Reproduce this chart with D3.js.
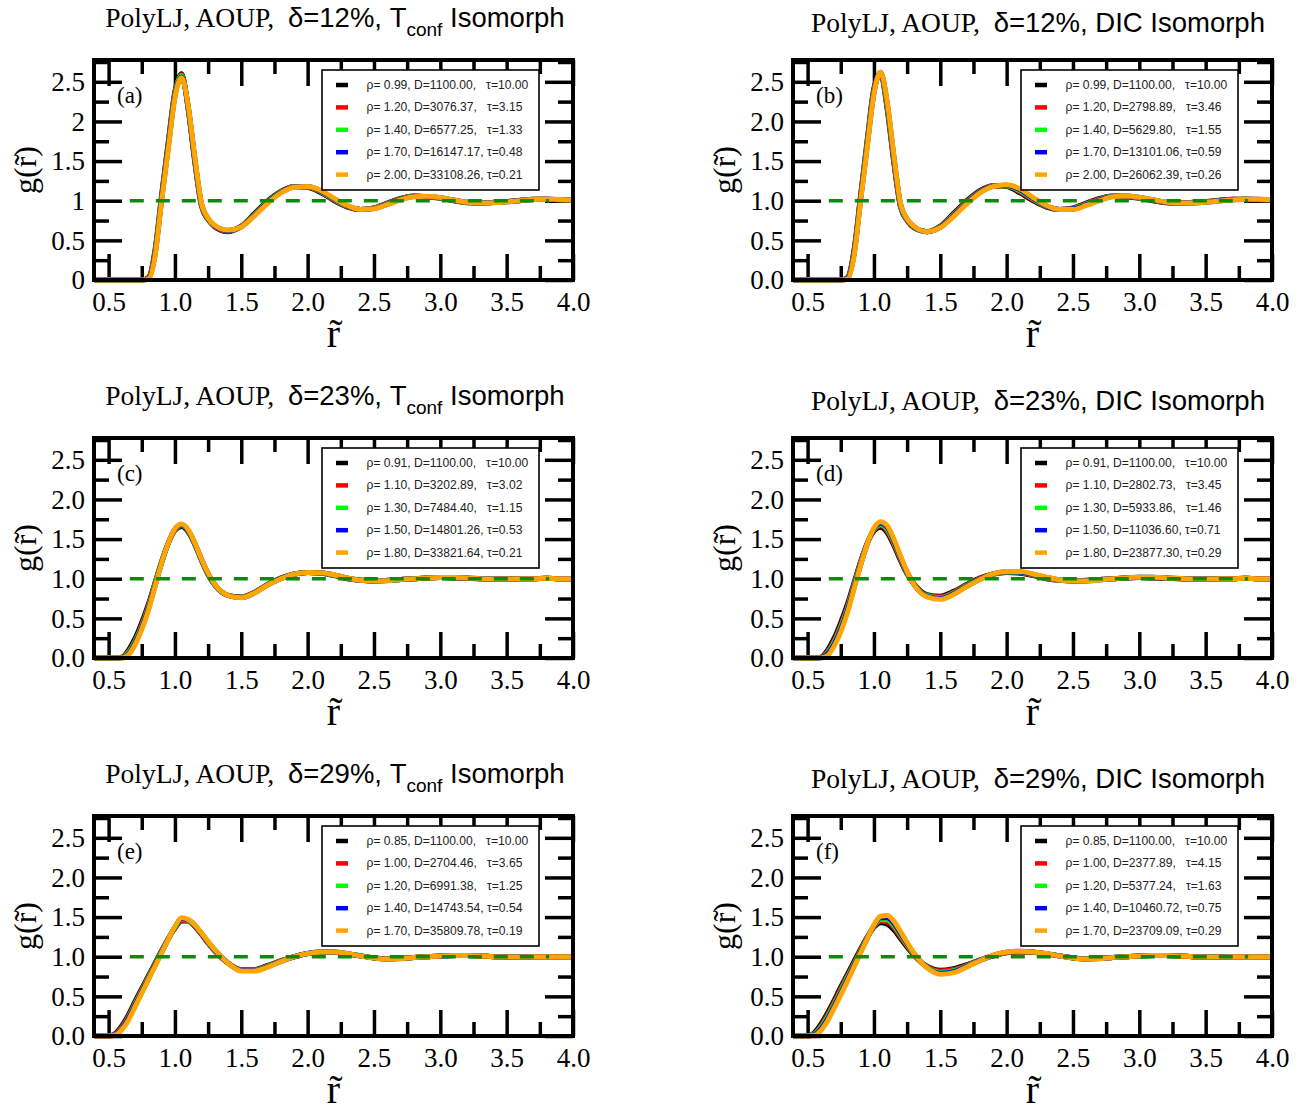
<!DOCTYPE html>
<html>
<head>
<meta charset="utf-8">
<script src="https://cdn.jsdelivr.net/npm/d3@7/dist/d3.min.js"></script>
<style>
body { margin: 0; background: #fff; }
</style>
</head>
<body>
<svg id="fig" width="1316" height="1113"></svg>
<script>
// r values shared by every curve
var rGrid = [0.39,0.50,0.55,0.60,0.65,0.70,0.75,0.80,0.85,0.90,0.95,1.00,1.05,1.10,1.15,1.20,1.25,1.30,
             1.40,1.50,1.60,1.70,1.80,1.90,2.00,2.10,2.20,2.30,2.40,2.50,2.60,2.70,2.80,2.90,3.00,
             3.10,3.20,3.30,3.40,3.50,3.60,3.70,3.80,3.90,4.00];

// (a) delta=12%, Tconf isomorph
var gA1 = [0,0,0,0,0,0,0,0.03,0.38,1.08,1.75,2.38,2.6,2.15,1.48,0.93,0.76,0.67,0.61,0.68,0.84,1.0,1.12,1.18,1.17,1.1,1.0,0.92,0.89,0.91,0.97,1.03,1.06,1.05,1.03,1.0,0.975,0.97,0.98,0.99,1.005,1.02,1.02,1.01,1.005];
var gA2 = [0,0,0,0,0,0,0,0.025,0.36,1.06,1.72,2.36,2.59,2.16,1.5,0.94,0.765,0.675,0.615,0.68,0.83,0.99,1.115,1.178,1.172,1.108,1.008,0.925,0.89,0.908,0.965,1.025,1.058,1.051,1.033,1.003,0.976,0.97,0.979,0.989,1.004,1.019,1.02,1.011,1.006];
var gA3 = [0,0,0,0,0,0,0,0.02,0.34,1.04,1.7,2.34,2.58,2.18,1.52,0.95,0.77,0.68,0.62,0.675,0.825,0.985,1.11,1.175,1.175,1.115,1.015,0.93,0.89,0.905,0.96,1.02,1.055,1.052,1.035,1.005,0.978,0.97,0.978,0.988,1.003,1.018,1.02,1.012,1.008];
var gA4 = [0,0,0,0,0,0,0,0.015,0.32,1.02,1.68,2.32,2.56,2.19,1.53,0.96,0.775,0.685,0.625,0.672,0.818,0.978,1.105,1.172,1.178,1.122,1.022,0.935,0.89,0.902,0.955,1.015,1.052,1.054,1.038,1.008,0.98,0.97,0.976,0.986,1.001,1.016,1.02,1.014,1.009];
var gA5 = [0,0,0,0,0,0,0,0.01,0.3,1.0,1.65,2.3,2.55,2.2,1.55,0.97,0.78,0.69,0.63,0.67,0.81,0.97,1.1,1.17,1.18,1.13,1.03,0.94,0.89,0.9,0.95,1.01,1.05,1.055,1.04,1.01,0.98,0.97,0.975,0.985,1.0,1.015,1.02,1.015,1.01];

// (b) delta=12%, DIC isomorph
var gB1 = [0,0,0,0,0,0,0,0.03,0.38,1.08,1.78,2.42,2.6,2.15,1.48,0.92,0.75,0.66,0.61,0.68,0.84,1.0,1.13,1.19,1.18,1.1,1.0,0.92,0.89,0.91,0.97,1.03,1.06,1.05,1.03,1.0,0.975,0.97,0.98,0.99,1.005,1.02,1.02,1.01,1.005];
var gB2 = [0,0,0,0,0,0,0,0.025,0.36,1.06,1.75,2.4,2.61,2.18,1.5,0.93,0.755,0.665,0.61,0.675,0.83,0.99,1.12,1.188,1.185,1.112,1.01,0.925,0.89,0.905,0.962,1.022,1.058,1.052,1.034,1.004,0.978,0.97,0.978,0.988,1.003,1.018,1.02,1.012,1.008];
var gB3 = [0,0,0,0,0,0,0,0.02,0.34,1.04,1.73,2.38,2.61,2.2,1.53,0.945,0.76,0.67,0.61,0.67,0.82,0.98,1.115,1.185,1.19,1.125,1.02,0.93,0.89,0.9,0.955,1.015,1.055,1.055,1.038,1.008,0.98,0.97,0.975,0.985,1.0,1.015,1.02,1.015,1.01];
var gB4 = [0,0,0,0,0,0,0,0.015,0.32,1.02,1.7,2.36,2.62,2.23,1.56,0.96,0.765,0.675,0.61,0.665,0.81,0.97,1.108,1.182,1.195,1.138,1.03,0.935,0.89,0.895,0.948,1.008,1.052,1.058,1.042,1.012,0.982,0.97,0.972,0.982,0.998,1.012,1.02,1.018,1.012];
var gB5 = [0,0,0,0,0,0,0,0.01,0.3,1.0,1.68,2.35,2.62,2.25,1.58,0.97,0.77,0.68,0.61,0.66,0.8,0.96,1.1,1.18,1.2,1.15,1.04,0.94,0.89,0.89,0.94,1.0,1.05,1.06,1.045,1.015,0.985,0.97,0.97,0.98,0.995,1.01,1.02,1.02,1.015];

// (c) delta=23%, Tconf isomorph
var gC1 = [0,0,0,0.01,0.1,0.25,0.45,0.68,0.95,1.22,1.45,1.61,1.66,1.59,1.43,1.23,1.05,0.92,0.79,0.77,0.83,0.93,1.01,1.06,1.08,1.07,1.04,1.0,0.98,0.97,0.98,0.99,1.0,1.01,1.015,1.01,1.005,1.0,0.995,0.995,1.0,1.0,1.005,1.0,1.0];
var gC2 = [0,0,0,0.008,0.08,0.22,0.42,0.66,0.94,1.21,1.45,1.615,1.67,1.6,1.44,1.24,1.06,0.925,0.79,0.767,0.827,0.927,1.005,1.06,1.08,1.072,1.045,1.005,0.98,0.97,0.978,0.99,1.0,1.01,1.015,1.012,1.007,1.0,0.995,0.995,1.0,1.0,1.005,1.0,1.0];
var gC3 = [0,0,0,0.005,0.07,0.21,0.4,0.64,0.93,1.21,1.45,1.62,1.675,1.605,1.44,1.24,1.06,0.925,0.79,0.765,0.825,0.925,1.005,1.06,1.08,1.073,1.045,1.005,0.98,0.97,0.977,0.99,1.0,1.01,1.015,1.013,1.008,1.0,0.995,0.995,1.0,1.0,1.005,1.0,1.0];
var gC4 = [0,0,0,0.002,0.05,0.19,0.38,0.62,0.91,1.2,1.45,1.625,1.68,1.61,1.445,1.245,1.065,0.928,0.79,0.762,0.822,0.922,1.002,1.06,1.08,1.074,1.048,1.008,0.98,0.97,0.976,0.99,1.0,1.01,1.015,1.014,1.009,1.0,0.995,0.995,1.0,1.0,1.005,1.0,1.0];
var gC5 = [0,0,0,0,0.04,0.17,0.36,0.6,0.9,1.2,1.45,1.63,1.69,1.62,1.45,1.25,1.07,0.93,0.79,0.76,0.82,0.92,1.0,1.06,1.08,1.075,1.05,1.01,0.98,0.97,0.975,0.99,1.0,1.01,1.015,1.015,1.01,1.0,0.995,0.995,1.0,1.0,1.005,1.0,1.0];

// (d) delta=23%, DIC isomorph
var gD1 = [0,0,0,0.01,0.1,0.25,0.45,0.68,0.95,1.22,1.45,1.6,1.65,1.58,1.42,1.23,1.06,0.94,0.8,0.78,0.84,0.93,1.01,1.06,1.08,1.07,1.04,1.0,0.98,0.975,0.98,0.99,1.0,1.01,1.015,1.01,1.005,1.0,0.995,0.995,1.0,1.0,1.005,1.0,1.0];
var gD2 = [0,0,0,0.008,0.08,0.22,0.42,0.65,0.93,1.21,1.45,1.61,1.67,1.6,1.44,1.245,1.068,0.938,0.792,0.77,0.83,0.923,1.005,1.06,1.083,1.075,1.045,1.005,0.981,0.974,0.978,0.989,1.0,1.01,1.016,1.012,1.006,1.001,0.995,0.995,1.0,1.0,1.005,1.0,1.0];
var gD3 = [0,0,0,0.005,0.065,0.2,0.39,0.625,0.91,1.195,1.445,1.62,1.685,1.625,1.46,1.26,1.075,0.935,0.785,0.76,0.82,0.915,1.0,1.06,1.085,1.08,1.05,1.01,0.982,0.972,0.975,0.988,1.0,1.01,1.017,1.015,1.008,1.003,0.995,0.995,1.0,1.0,1.005,1.0,1.0];
var gD4 = [0,0,0,0.002,0.05,0.175,0.36,0.6,0.89,1.18,1.44,1.63,1.7,1.65,1.48,1.275,1.082,0.932,0.778,0.75,0.81,0.907,0.995,1.06,1.088,1.085,1.055,1.015,0.984,0.971,0.972,0.986,1.0,1.01,1.018,1.018,1.009,1.004,0.995,0.995,1.0,1.0,1.005,1.0,1.0];
var gD5 = [0,0,0,0,0.03,0.15,0.33,0.57,0.87,1.17,1.44,1.64,1.72,1.67,1.5,1.29,1.09,0.93,0.77,0.74,0.8,0.9,0.99,1.06,1.09,1.09,1.06,1.02,0.985,0.97,0.97,0.985,1.0,1.01,1.02,1.02,1.01,1.005,0.995,0.995,1.0,1.0,1.005,1.0,1.0];

// (e) delta=29%, Tconf isomorph
var gE1 = [0,0,0.03,0.13,0.27,0.44,0.6,0.76,0.92,1.08,1.23,1.36,1.45,1.45,1.38,1.28,1.17,1.07,0.92,0.84,0.84,0.89,0.95,1.0,1.04,1.055,1.055,1.035,1.01,0.985,0.975,0.98,0.99,1.0,1.01,1.015,1.015,1.01,1.0,0.995,0.995,1.0,1.0,1.0,1.0];
var gE2 = [0,0,0.025,0.115,0.25,0.42,0.585,0.75,0.91,1.07,1.225,1.365,1.46,1.455,1.385,1.285,1.175,1.075,0.92,0.835,0.835,0.885,0.947,1.0,1.04,1.056,1.056,1.036,1.01,0.985,0.974,0.979,0.99,1.0,1.01,1.015,1.015,1.01,1.0,0.995,0.995,1.0,1.0,1.0,1.0];
var gE3 = [0,0,0.02,0.1,0.235,0.405,0.57,0.735,0.9,1.065,1.225,1.37,1.47,1.46,1.39,1.29,1.18,1.08,0.92,0.83,0.83,0.88,0.945,1.0,1.04,1.057,1.057,1.037,1.01,0.985,0.973,0.978,0.99,1.0,1.01,1.015,1.015,1.01,1.0,0.995,0.995,1.0,1.0,1.0,1.0];
var gE4 = [0,0,0.015,0.09,0.22,0.39,0.555,0.72,0.89,1.055,1.222,1.375,1.48,1.465,1.395,1.295,1.185,1.085,0.92,0.825,0.825,0.875,0.942,1.0,1.04,1.058,1.058,1.038,1.01,0.985,0.971,0.976,0.99,1.0,1.01,1.015,1.015,1.01,1.0,0.995,0.995,1.0,1.0,1.0,1.0];
var gE5 = [0,0,0.01,0.08,0.2,0.37,0.54,0.71,0.88,1.05,1.22,1.38,1.49,1.47,1.4,1.3,1.19,1.09,0.92,0.82,0.82,0.87,0.94,1.0,1.04,1.06,1.06,1.04,1.01,0.985,0.97,0.975,0.99,1.0,1.01,1.015,1.015,1.01,1.0,0.995,0.995,1.0,1.0,1.0,1.0];

// (f) delta=29%, DIC isomorph
var gF1 = [0,0,0.04,0.15,0.29,0.45,0.62,0.78,0.94,1.1,1.25,1.37,1.43,1.41,1.34,1.23,1.12,1.02,0.88,0.83,0.85,0.9,0.96,1.01,1.05,1.06,1.055,1.035,1.01,0.985,0.975,0.98,0.99,1.0,1.01,1.015,1.015,1.01,1.0,0.995,0.995,1.0,1.0,1.0,1.0];
var gF2 = [0,0,0.03,0.125,0.265,0.425,0.595,0.76,0.92,1.085,1.245,1.378,1.45,1.44,1.37,1.25,1.135,1.027,0.875,0.82,0.838,0.893,0.958,1.013,1.053,1.063,1.056,1.036,1.01,0.985,0.974,0.979,0.99,1.0,1.01,1.015,1.015,1.01,1.0,0.995,0.995,1.0,1.0,1.0,1.0];
var gF3 = [0,0,0.022,0.11,0.24,0.4,0.57,0.735,0.905,1.075,1.24,1.385,1.47,1.465,1.395,1.275,1.15,1.035,0.87,0.805,0.825,0.885,0.955,1.015,1.055,1.065,1.058,1.038,1.01,0.985,0.973,0.978,0.99,1.0,1.01,1.015,1.015,1.01,1.0,0.995,0.995,1.0,1.0,1.0,1.0];
var gF4 = [0,0,0.014,0.09,0.215,0.375,0.545,0.712,0.888,1.062,1.235,1.392,1.49,1.492,1.422,1.298,1.165,1.043,0.865,0.792,0.812,0.878,0.952,1.018,1.058,1.068,1.059,1.039,1.01,0.985,0.972,0.977,0.99,1.0,1.01,1.015,1.015,1.01,1.0,0.995,0.995,1.0,1.0,1.0,1.0];
var gF5 = [0,0,0.005,0.07,0.19,0.35,0.52,0.69,0.87,1.05,1.23,1.4,1.51,1.52,1.45,1.32,1.18,1.05,0.86,0.78,0.8,0.87,0.95,1.02,1.06,1.07,1.06,1.04,1.01,0.985,0.97,0.975,0.99,1.0,1.01,1.015,1.015,1.01,1.0,0.995,0.995,1.0,1.0,1.0,1.0];

// legend texts
var legendA = ["ρ= 0.99, D=1100.00,   τ=10.00","ρ= 1.20, D=3076.37,   τ=3.15","ρ= 1.40, D=6577.25,   τ=1.33","ρ= 1.70, D=16147.17, τ=0.48","ρ= 2.00, D=33108.26, τ=0.21"];
var legendB = ["ρ= 0.99, D=1100.00,   τ=10.00","ρ= 1.20, D=2798.89,   τ=3.46","ρ= 1.40, D=5629.80,   τ=1.55","ρ= 1.70, D=13101.06, τ=0.59","ρ= 2.00, D=26062.39, τ=0.26"];
var legendC = ["ρ= 0.91, D=1100.00,   τ=10.00","ρ= 1.10, D=3202.89,   τ=3.02","ρ= 1.30, D=7484.40,   τ=1.15","ρ= 1.50, D=14801.26, τ=0.53","ρ= 1.80, D=33821.64, τ=0.21"];
var legendD = ["ρ= 0.91, D=1100.00,   τ=10.00","ρ= 1.10, D=2802.73,   τ=3.45","ρ= 1.30, D=5933.86,   τ=1.46","ρ= 1.50, D=11036.60, τ=0.71","ρ= 1.80, D=23877.30, τ=0.29"];
var legendE = ["ρ= 0.85, D=1100.00,   τ=10.00","ρ= 1.00, D=2704.46,   τ=3.65","ρ= 1.20, D=6991.38,   τ=1.25","ρ= 1.40, D=14743.54, τ=0.54","ρ= 1.70, D=35809.78, τ=0.19"];
var legendF = ["ρ= 0.85, D=1100.00,   τ=10.00","ρ= 1.00, D=2377.89,   τ=4.15","ρ= 1.20, D=5377.24,   τ=1.63","ρ= 1.40, D=10460.72, τ=0.75","ρ= 1.70, D=23709.09, τ=0.29"];

var seriesColors = ["#000000","#ff0000","#00ff00","#0000ff","#ffa500"];
var deltas = ["12%","12%","23%","23%","29%","29%"];
var kinds = ["Tconf","DIC","Tconf","DIC","Tconf","DIC"];
var tags = ["(a)","(b)","(c)","(d)","(e)","(f)"];

var xMajor = [0.5,1.0,1.5,2.0,2.5,3.0,3.5,4.0];
var xMinor = [0.75,1.25,1.75,2.25,2.75,3.25,3.75];
var xTickLabels = ["0.5","1.0","1.5","2.0","2.5","3.0","3.5","4.0"];
var yMajor = [0,0.5,1.0,1.5,2.0,2.5];
var yMinor = [0.25,0.75,1.25,1.75,2.25,2.75];
var yTickLabelsA = ["0","0.5","1","1.5","2","2.5"];
var yTickLabels = ["0.0","0.5","1.0","1.5","2.0","2.5"];
var refLine = [0.66, 3.82];   // extent of the dashed g=1 line

var panels = [
  {g:[gA1,gA2,gA3,gA4,gA5], legend:legendA, yl:yTickLabelsA},
  {g:[gB1,gB2,gB3,gB4,gB5], legend:legendB, yl:yTickLabels},
  {g:[gC1,gC2,gC3,gC4,gC5], legend:legendC, yl:yTickLabels},
  {g:[gD1,gD2,gD3,gD4,gD5], legend:legendD, yl:yTickLabels},
  {g:[gE1,gE2,gE3,gE4,gE5], legend:legendE, yl:yTickLabels},
  {g:[gF1,gF2,gF3,gF4,gF5], legend:legendF, yl:yTickLabels}
];

var SERIF = "'Liberation Serif','Times New Roman',serif";
var SANS = "'Liberation Sans',Arial,Helvetica,sans-serif";
var colX = [94, 793], rowY = [60, 438, 816];
var W = 479, H = 220;

var svg = d3.select("#fig");
svg.append("rect").attr("width",1316).attr("height",1113).attr("fill","#fff");

panels.forEach(function(p, i){
	var left = colX[i%2], top = rowY[Math.floor(i/2)];
	var x = d3.scaleLinear().domain([0.39,4.0]).range([left, left+W]);
	var y = d3.scaleLinear().domain([0,2.775]).range([top+H, top]);
	var g = svg.append("g");

	// ticks, all pointing inside
	function tickAxis(axis, pos, vals, len, labels){
		var a = axis.tickValues(vals).tickSizeInner(-len).tickSizeOuter(0)
			.tickFormat(labels ? function(d,k){ return labels[k]; } : "");
		var sel = g.append("g").attr("transform", pos).call(a);
		sel.select(".domain").remove();
		sel.selectAll("line").attr("stroke","#000").attr("stroke-width",3.5);
		return sel;
	}
	var bx = tickAxis(d3.axisBottom(x).tickPadding(12), "translate(0,"+(top+H)+")", xMajor, 26, xTickLabels);
	tickAxis(d3.axisBottom(x), "translate(0,"+(top+H)+")", xMinor, 14);
	tickAxis(d3.axisTop(x), "translate(0,"+top+")", xMajor, 26);
	tickAxis(d3.axisTop(x), "translate(0,"+top+")", xMinor, 14);
	var ly = tickAxis(d3.axisLeft(y).tickPadding(9), "translate("+left+",0)", yMajor, 28, p.yl);
	tickAxis(d3.axisLeft(y), "translate("+left+",0)", yMinor, 15);
	tickAxis(d3.axisRight(y), "translate("+(left+W)+",0)", yMajor, 28);
	tickAxis(d3.axisRight(y), "translate("+(left+W)+",0)", yMinor, 15);
	bx.selectAll("text").attr("font-family",SERIF).attr("font-size",27).attr("fill","#000");
	ly.selectAll("text").attr("font-family",SERIF).attr("font-size",27).attr("fill","#000");

	// curves
	var line = d3.line()
		.x(function(d,k){ return x(rGrid[k]); })
		.y(function(d){ return y(d); })
		.curve(d3.curveMonotoneX);
	p.g.forEach(function(vals, s){
		g.append("path").attr("d", line(vals)).attr("fill","none")
			.attr("stroke", seriesColors[s]).attr("stroke-width",5)
			.attr("stroke-linejoin","round");
	});

	// frame
	g.append("rect").attr("x",left).attr("y",top).attr("width",W).attr("height",H)
		.attr("fill","none").attr("stroke","#000").attr("stroke-width",4);

	// g = 1 reference
	g.append("line").attr("x1",x(refLine[0])).attr("x2",x(refLine[1]))
		.attr("y1",y(1)).attr("y2",y(1))
		.attr("stroke","#0b8a0b").attr("stroke-width",3.5).attr("stroke-dasharray","14,12");

	// legend
	var lg = g.append("g").attr("transform","translate("+(left+228)+","+(top+10)+")");
	lg.append("rect").attr("width",217).attr("height",120).attr("fill","#fff")
		.attr("stroke","#000").attr("stroke-width",1.6);
	p.legend.forEach(function(txt, s){
		var cy = 15 + s*22.4;
		lg.append("line").attr("x1",14).attr("x2",26).attr("y1",cy).attr("y2",cy)
			.attr("stroke",seriesColors[s]).attr("stroke-width",4.5);
		lg.append("text").attr("x",44.5).attr("y",cy+4).attr("xml:space","preserve")
			.style("white-space","pre")
			.attr("font-family",SANS).attr("font-size",12.1).attr("fill","#222").text(txt);
	});

	// panel tag
	g.append("text").attr("x",left+23).attr("y",top+42.5).attr("font-family",SERIF)
		.attr("font-size",23).text(tags[i]);

	// title
	var isT = kinds[i] === "Tconf";
	var t = g.append("text").attr("x", left + W/2 + (isT ? 1.5 : 5.5))
		.attr("y", top - (isT ? 33 : 28)).attr("text-anchor","middle")
		.attr("font-size",27.5).style("white-space","pre").attr("xml:space","preserve");
	t.append("tspan").attr("font-family",SERIF).text("PolyLJ, AOUP,  ");
	if (isT) {
		t.append("tspan").attr("font-family",SANS).text("δ=" + deltas[i] + ", T");
		t.append("tspan").attr("font-family",SANS).attr("font-size",19).attr("dy",9).text("conf");
		t.append("tspan").attr("font-family",SANS).attr("dy",-9).text(" Isomorph");
	} else {
		t.append("tspan").attr("font-family",SANS).text("δ=" + deltas[i] + ", DIC Isomorph");
	}

	// x label: r with a combining tilde
	g.append("text").attr("x",left + W/2).attr("y",top+H+67).attr("text-anchor","middle")
		.attr("font-family",SERIF).attr("font-size",40).text("r\u0303");

	// y label: g(r~), rotated
	g.append("text").attr("transform","translate("+(left-58)+","+(top+H/2)+") rotate(-90)")
		.attr("text-anchor","middle").attr("font-family",SERIF).attr("font-size",32)
		.text("g(r\u0303)");
});
</script>
</body>
</html>
